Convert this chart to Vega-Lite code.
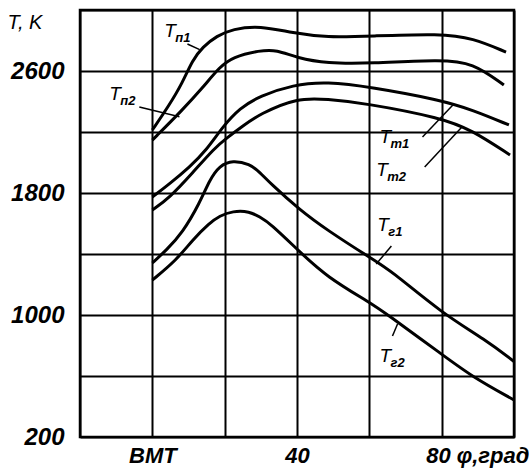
{
  "$schema": "https://vega.github.io/schema/vega-lite/v6.json",
  "width": 434,
  "height": 427,
  "autosize": "none",
  "padding": {"left": 80, "top": 10, "right": 15, "bottom": 36},
  "background": "white",
  "config": {
    "view": {"stroke": "black", "strokeWidth": 2.5},
    "font": "Liberation Sans"
  },
  "datasets": {
    "curves": [
      {"s": "Tp1", "x": 0, "y": 2213}, {"s": "Tp1", "x": 4.7, "y": 2377}, {"s": "Tp1", "x": 8.3, "y": 2521}, {"s": "Tp1", "x": 11.1, "y": 2672}, {"s": "Tp1", "x": 13.9, "y": 2757}, {"s": "Tp1", "x": 17.8, "y": 2830}, {"s": "Tp1", "x": 22.2, "y": 2875}, {"s": "Tp1", "x": 29.7, "y": 2898}, {"s": "Tp1", "x": 38.9, "y": 2849}, {"s": "Tp1", "x": 48.3, "y": 2820}, {"s": "Tp1", "x": 60.3, "y": 2829}, {"s": "Tp1", "x": 79.7, "y": 2845}, {"s": "Tp1", "x": 88.6, "y": 2816}, {"s": "Tp1", "x": 97.8, "y": 2724},
      {"s": "Tp2", "x": 0, "y": 2147}, {"s": "Tp2", "x": 8.3, "y": 2344}, {"s": "Tp2", "x": 13.9, "y": 2490}, {"s": "Tp2", "x": 18.6, "y": 2626}, {"s": "Tp2", "x": 22.2, "y": 2692}, {"s": "Tp2", "x": 29.7, "y": 2735}, {"s": "Tp2", "x": 34.4, "y": 2740}, {"s": "Tp2", "x": 40, "y": 2685}, {"s": "Tp2", "x": 48.3, "y": 2650}, {"s": "Tp2", "x": 60.3, "y": 2650}, {"s": "Tp2", "x": 79.7, "y": 2675}, {"s": "Tp2", "x": 88.6, "y": 2655}, {"s": "Tp2", "x": 97.2, "y": 2508},
      {"s": "Tm1", "x": 0, "y": 1774}, {"s": "Tm1", "x": 4.7, "y": 1859}, {"s": "Tm1", "x": 10.3, "y": 1970}, {"s": "Tm1", "x": 15, "y": 2082}, {"s": "Tm1", "x": 19.4, "y": 2233}, {"s": "Tm1", "x": 24.2, "y": 2357}, {"s": "Tm1", "x": 29.7, "y": 2436}, {"s": "Tm1", "x": 38.9, "y": 2510}, {"s": "Tm1", "x": 48.3, "y": 2530}, {"s": "Tm1", "x": 60.3, "y": 2495}, {"s": "Tm1", "x": 79.7, "y": 2410}, {"s": "Tm1", "x": 88.6, "y": 2344}, {"s": "Tm1", "x": 98.6, "y": 2246},
      {"s": "Tm2", "x": 0, "y": 1688}, {"s": "Tm2", "x": 4.7, "y": 1767}, {"s": "Tm2", "x": 11.1, "y": 1931}, {"s": "Tm2", "x": 17.2, "y": 2095}, {"s": "Tm2", "x": 20.6, "y": 2161}, {"s": "Tm2", "x": 25, "y": 2239}, {"s": "Tm2", "x": 29.7, "y": 2318}, {"s": "Tm2", "x": 40, "y": 2425}, {"s": "Tm2", "x": 48.3, "y": 2415}, {"s": "Tm2", "x": 58.6, "y": 2390}, {"s": "Tm2", "x": 80, "y": 2292}, {"s": "Tm2", "x": 88.3, "y": 2213}, {"s": "Tm2", "x": 98.9, "y": 2049},
      {"s": "Tg1", "x": 0, "y": 1341}, {"s": "Tg1", "x": 3.9, "y": 1426}, {"s": "Tg1", "x": 8.3, "y": 1538}, {"s": "Tg1", "x": 13.1, "y": 1734}, {"s": "Tg1", "x": 15.8, "y": 1885}, {"s": "Tg1", "x": 18.6, "y": 1980}, {"s": "Tg1", "x": 22.2, "y": 2015}, {"s": "Tg1", "x": 26.9, "y": 1990}, {"s": "Tg1", "x": 29.7, "y": 1937}, {"s": "Tg1", "x": 32.5, "y": 1866}, {"s": "Tg1", "x": 40.8, "y": 1688}, {"s": "Tg1", "x": 48.3, "y": 1557}, {"s": "Tg1", "x": 60.3, "y": 1374}, {"s": "Tg1", "x": 65.8, "y": 1295}, {"s": "Tg1", "x": 80, "y": 1013}, {"s": "Tg1", "x": 92.2, "y": 836}, {"s": "Tg1", "x": 100, "y": 695},
      {"s": "Tg2", "x": 0, "y": 1229}, {"s": "Tg2", "x": 6.7, "y": 1361}, {"s": "Tg2", "x": 11.1, "y": 1492}, {"s": "Tg2", "x": 15.8, "y": 1603}, {"s": "Tg2", "x": 18.6, "y": 1650}, {"s": "Tg2", "x": 22.2, "y": 1682}, {"s": "Tg2", "x": 26.9, "y": 1680}, {"s": "Tg2", "x": 29.7, "y": 1643}, {"s": "Tg2", "x": 32.5, "y": 1603}, {"s": "Tg2", "x": 40.8, "y": 1413}, {"s": "Tg2", "x": 48.3, "y": 1249}, {"s": "Tg2", "x": 60.3, "y": 1079}, {"s": "Tg2", "x": 64.4, "y": 1013}, {"s": "Tg2", "x": 80.3, "y": 738}, {"s": "Tg2", "x": 88.6, "y": 593}, {"s": "Tg2", "x": 100, "y": 443}
    ],
    "labels": [
      {"x": 3.3, "y": 2862, "sub": "п1"},
      {"x": -11.9, "y": 2449, "sub": "п2"},
      {"x": 62.8, "y": 2167, "sub": "m1"},
      {"x": 61.9, "y": 1951, "sub": "m2"},
      {"x": 62.2, "y": 1590, "sub": "г1"},
      {"x": 62.8, "y": 731, "sub": "г2"}
    ],
    "leaders": [
      {"x": 9.7, "y": 2777, "x2": 13.1, "y2": 2740},
      {"x": -3.6, "y": 2364, "x2": 7.5, "y2": 2300},
      {"x": 74.7, "y": 2167, "x2": 83.1, "y2": 2377},
      {"x": 75.3, "y": 1970, "x2": 85.6, "y2": 2233},
      {"x": 66.1, "y": 1452, "x2": 61.9, "y2": 1334},
      {"x": 66.4, "y": 862, "x2": 67.8, "y2": 941}
    ]
  },
  "layer": [
    {
      "data": {"name": "curves"},
      "mark": {"type": "line", "interpolate": "basis", "color": "black", "strokeWidth": 3},
      "encoding": {
        "x": {
          "field": "x", "type": "quantitative",
          "scale": {"domain": [-20, 100], "nice": false, "zero": false},
          "axis": {
            "title": null,
            "values": [-20, 0, 20, 40, 60, 80, 100],
            "grid": true, "gridColor": "black", "gridWidth": 2, "gridOpacity": 1,
            "domain": false, "ticks": false,
            "labelExpr": "datum.value == 0 ? 'ВМТ' : datum.value == 40 ? '40' : datum.value == 80 ? '80 φ,град' : ''",
            "labelAlign": {"condition": {"test": "datum.value == 80", "value": "left"}, "value": "center"},
            "labelOffset": {"condition": {"test": "datum.value == 80", "value": -16}, "value": 0},
            "labelFontSize": 22, "labelFontStyle": "italic", "labelFontWeight": "bold",
            "labelColor": "black", "labelPadding": 8, "labelFont": "Liberation Sans"
          }
        },
        "y": {
          "field": "y", "type": "quantitative",
          "scale": {"domain": [200, 3000], "nice": false, "zero": false},
          "axis": {
            "title": "T, K", "titleAngle": 0, "titleAlign": "left", "titleBaseline": "middle",
            "titleX": -73, "titleY": 12, "titleFontSize": 20, "titleFontStyle": "italic", "titleFontWeight": "normal", "titleColor": "black",
            "values": [200, 600, 1000, 1400, 1800, 2200, 2600, 3000],
            "grid": true, "gridColor": "black", "gridWidth": 2, "gridOpacity": 1,
            "domain": false, "ticks": false,
            "labelExpr": "(datum.value - 200) % 800 == 0 && datum.value < 3000 ? datum.label : ''",
            "labelFontSize": 24, "labelFontStyle": "italic", "labelFontWeight": "bold",
            "labelColor": "black", "labelPadding": 16, "labelFont": "Liberation Sans",
            "format": "d"
          }
        },
        "detail": {"field": "s"}
      }
    },
    {
      "data": {"name": "leaders"},
      "mark": {"type": "rule", "color": "black", "strokeWidth": 1.5},
      "encoding": {
        "x": {"field": "x", "type": "quantitative"},
        "y": {"field": "y", "type": "quantitative"},
        "x2": {"field": "x2"},
        "y2": {"field": "y2"}
      }
    },
    {
      "data": {"name": "labels"},
      "mark": {"type": "text", "text": "T", "align": "left", "baseline": "middle", "fontSize": 19, "fontStyle": "italic", "color": "black", "font": "Liberation Sans"},
      "encoding": {
        "x": {"field": "x", "type": "quantitative"},
        "y": {"field": "y", "type": "quantitative"}
      }
    },
    {
      "data": {"name": "labels"},
      "mark": {"type": "text", "align": "left", "baseline": "middle", "dx": 11, "dy": 7, "fontSize": 13, "fontStyle": "italic", "fontWeight": "bold", "color": "black", "font": "Liberation Sans"},
      "encoding": {
        "x": {"field": "x", "type": "quantitative"},
        "y": {"field": "y", "type": "quantitative"},
        "text": {"field": "sub"}
      }
    }
  ]
}
